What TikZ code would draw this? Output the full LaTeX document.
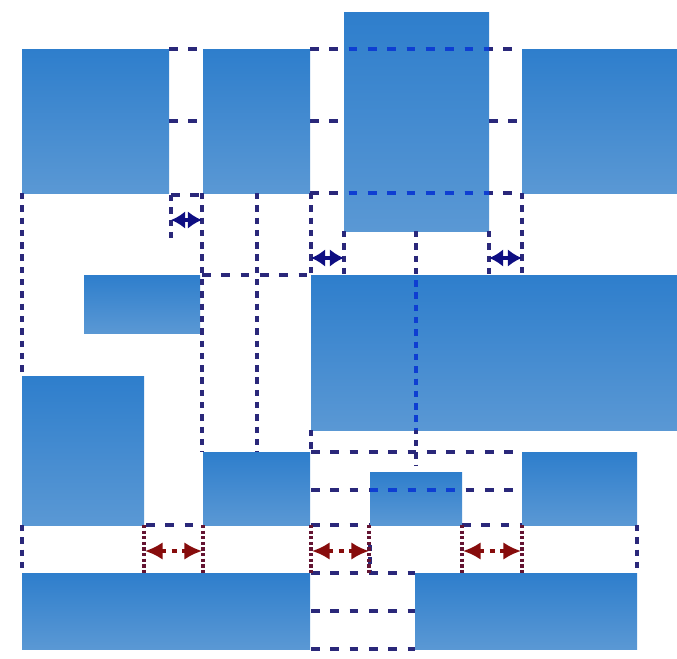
\documentclass[tikz,border=0pt]{standalone}
\usepackage{xcolor}
\usepackage{tikz}
\usetikzlibrary{arrows.meta}

\definecolor{blocktop}{RGB}{46,126,204}
\definecolor{blockbot}{RGB}{90,152,212}
\definecolor{cutnavy}{RGB}{42,40,122}
\definecolor{cutblue}{RGB}{14,62,210}
\definecolor{navyarrow}{RGB}{14,14,130}
\definecolor{redarrow}{RGB}{135,12,12}
\definecolor{sidered}{RGB}{100,20,50}

\tikzset{
  block/.style={top color=blocktop,bottom color=blockbot,draw=none},
  cutcolor/.style={cutnavy},
  cut/.style={cutcolor,line width=2.2pt,dash pattern=on 5pt off 6pt},
  cutv/.style={cutcolor,line width=2.2pt,dash pattern=on 3.6pt off 3.4pt},
  gapside/.style={sidered,line width=1.9pt,dash pattern=on 1.8pt off 1.4pt},
  narrowgap/.style={navyarrow,line width=2pt,{Latex[length=8pt,width=10pt]}-{Latex[length=8pt,width=10pt]}},
  widegap/.style={redarrow,line width=1.8pt,dash pattern=on 3pt off 3pt,{Latex[length=10pt,width=10pt]}-{Latex[length=10pt,width=10pt]}}
}

\newcommand{\cutlines}{%
	\draw[cut] (169,49) -- (203,49);
	\draw[cut] (310,49) -- (522,49);
	\draw[cut] (169,121) -- (203,121);
	\draw[cut] (310,121) -- (344,121);
	\draw[cut] (489,121) -- (522,121);
	\draw[cut] (310,193) -- (522,193);
	\draw[cut] (171,195) -- (202,195);
	\draw[cut] (202,275) -- (311,275);
	\draw[cut] (311,452) -- (522,452);
	\draw[cut] (311,490) -- (522,490);
	\draw[cut] (146,525) -- (202,525);
	\draw[cut] (311,525) -- (370,525);
	\draw[cut] (462,525) -- (522,525);
	\draw[cut] (311,573) -- (415,573);
	\draw[cut] (311,611) -- (415,611);
	\draw[cut] (311,649) -- (415,649);
	\draw[cutv] (22,193) -- (22,376);
	\draw[cutv] (171,195) -- (171,240);
	\draw[cutv] (202,193) -- (202,452);
	\draw[cutv] (257,193) -- (257,452);
	\draw[cutv] (311,193) -- (311,275);
	\draw[cutv] (344,231) -- (344,275);
	\draw[cutv] (489,231) -- (489,275);
	\draw[cutv] (522,193) -- (522,275);
	\draw[cutv] (416,231) -- (416,465);
	\draw[cutv] (311,430) -- (311,452);
	\draw[cutv] (370,545) -- (370,573);
	\draw[cutv] (22,525) -- (22,573);
	\draw[cutv] (637,525) -- (637,573);
}

\begin{document}
\begin{tikzpicture}[x=0.02cm,y=-0.02cm]
	\useasboundingbox (0,0) rectangle (677,659);
	% blocks
	\fill[block] (22,49) rectangle (169,193);
	\fill[block] (203,49) rectangle (310,193);
	\fill[block] (344,12) rectangle (489,231);
	\fill[block] (522,49) rectangle (677,193);
	\fill[block] (84,275) rectangle (200,333);
	\fill[block] (311,275) rectangle (677,430);
	\fill[block] (22,376) rectangle (144,525);
	\fill[block] (203,452) rectangle (310,525);
	\fill[block] (370,472) rectangle (462,525);
	\fill[block] (522,452) rectangle (637,525);
	\fill[block] (22,573) rectangle (310,649);
	\fill[block] (415,573) rectangle (637,649);
	% cut lines
	\cutlines
	\begin{scope}[cutcolor/.style={cutblue}]
		\clip (22,49) rectangle (169,193) (203,49) rectangle (310,193)
			(344,12) rectangle (489,231) (522,49) rectangle (677,193)
			(311,275) rectangle (677,430) (370,472) rectangle (462,525);
		\cutlines
	\end{scope}
	% gap sides
	\foreach \gx in {144,203,311,369,462,522}
		\draw[gapside] (\gx,525) -- (\gx,573);
	% gaps
	\coordinate (n1l) at (171,220); \coordinate (n1r) at (202,220);
	\coordinate (n2l) at (311,258); \coordinate (n2r) at (344,258);
	\coordinate (n3l) at (489,258); \coordinate (n3r) at (522,258);
	\coordinate (w1l) at (145,551); \coordinate (w1r) at (202,551);
	\coordinate (w2l) at (312,551); \coordinate (w2r) at (369,551);
	\coordinate (w3l) at (463,551); \coordinate (w3r) at (521,551);
	\draw[narrowgap] (n1l) -- (n1r);
	\draw[narrowgap] (n2l) -- (n2r);
	\draw[narrowgap] (n3l) -- (n3r);
	\draw[widegap] (w1l) -- (w1r);
	\draw[widegap] (w2l) -- (w2r);
	\draw[widegap] (w3l) -- (w3r);
\end{tikzpicture}
\end{document}
